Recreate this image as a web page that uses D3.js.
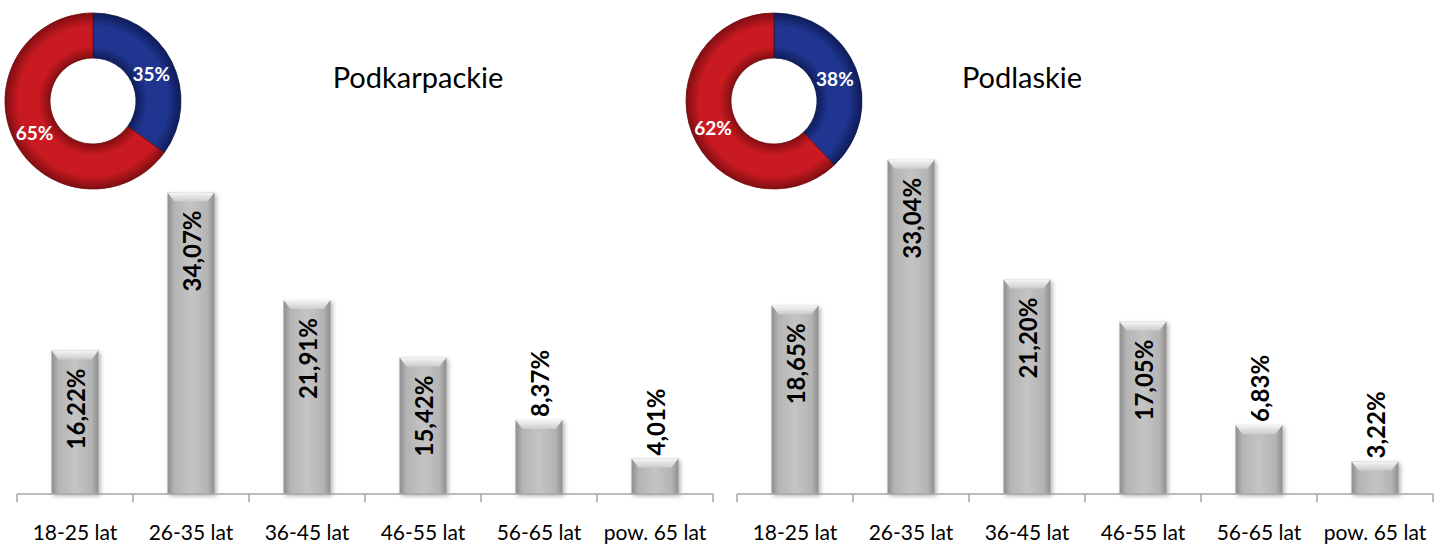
<!DOCTYPE html>
<html>
<head>
<meta charset="utf-8">
<script src="https://cdn.jsdelivr.net/npm/d3@7"></script>
<style>
  body { margin: 0; background: #fff; }
  svg { display: block; font-family: Lato, "Open Sans", sans-serif; }
</style>
</head>
<body>
<svg id="viz" width="1435" height="550"></svg>
<script>
// data
var categories = ["18-25 lat", "26-35 lat", "36-45 lat", "46-55 lat", "56-65 lat", "pow. 65 lat"];
var regions = ["Podkarpackie", "Podlaskie"];
var podkarpackie = [16.22, 34.07, 21.91, 15.42, 8.37, 4.01];
var podlaskie = [18.65, 33.04, 21.20, 17.05, 6.83, 3.22];
var podkarpackieShare = [35, 65];   // blue, red
var podlaskieShare = [38, 62];
var yMax = [40, 35];

var svg = d3.select("#viz");
var defs = svg.append("defs");

// bar gradient
var bg = defs.append("linearGradient").attr("id", "barGrad").attr("x1", 0).attr("x2", 1).attr("y1", 0).attr("y2", 0);
bg.append("stop").attr("offset", "0%").attr("stop-color", "#8e8e8e");
bg.append("stop").attr("offset", "15%").attr("stop-color", "#b4b4b4");
bg.append("stop").attr("offset", "50%").attr("stop-color", "#c4c4c4");
bg.append("stop").attr("offset", "85%").attr("stop-color", "#b4b4b4");
bg.append("stop").attr("offset", "100%").attr("stop-color", "#8e8e8e");

var cap = defs.append("linearGradient").attr("id", "capGrad").attr("x1", 0).attr("x2", 0).attr("y1", 0).attr("y2", 1);
cap.append("stop").attr("offset", "0%").attr("stop-color", "#f6f6f6");
cap.append("stop").attr("offset", "100%").attr("stop-color", "#cccccc");

var sh = defs.append("filter").attr("id", "shadow").attr("x", "-30%").attr("y", "-10%").attr("width", "160%").attr("height", "130%");
sh.append("feDropShadow").attr("dx", 2).attr("dy", 2).attr("stdDeviation", 2).attr("flood-color", "#000").attr("flood-opacity", 0.3);

function ringGrad(id, r, dark, mid) {
    var g = defs.append("radialGradient").attr("id", id)
        .attr("gradientUnits", "userSpaceOnUse").attr("cx", 0).attr("cy", 0).attr("r", r);
    g.append("stop").attr("offset", "48%").attr("stop-color", dark);
    g.append("stop").attr("offset", "62%").attr("stop-color", mid);
    g.append("stop").attr("offset", "85%").attr("stop-color", mid);
    g.append("stop").attr("offset", "100%").attr("stop-color", dark);
}

var panels = [
    { name: regions[0], values: podkarpackie, share: podkarpackieShare, x0: 17, x1: 713, max: yMax[0], donut: [93, 101], title: 418 },
    { name: regions[1], values: podlaskie, share: podlaskieShare, x0: 737, x1: 1433, max: yMax[1], donut: [774, 101], title: 1022 }
];

var baseY = 494, topY = 140;

panels.forEach(function(p, pi) {
    var g = svg.append("g");

    var x = d3.scaleBand().domain(categories).range([p.x0, p.x1]).padding(0);
    var y = d3.scaleLinear().domain([0, p.max]).range([baseY, topY]);
    var bw = x.bandwidth() * 0.405;

    // bars
    var bars = g.append("g").selectAll("g").data(p.values).join("g");
    bars.append("rect")
        .attr("x", (d, i) => x(categories[i]) + (x.bandwidth() - bw) / 2)
        .attr("y", d => y(d))
        .attr("width", bw)
        .attr("height", d => y(0) - y(d))
        .attr("fill", "url(#barGrad)")
        .attr("filter", "url(#shadow)");
    bars.append("path")
        .attr("d", (d, i) => {
            var l = x(categories[i]) + (x.bandwidth() - bw) / 2, t = y(d);
            return `M${l},${t}L${l + bw},${t}L${l + bw - 7},${t + 9}L${l + 7},${t + 9}Z`;
        })
        .attr("fill", "url(#capGrad)");

    // axis
    g.append("line").attr("x1", p.x0).attr("x2", p.x1).attr("y1", baseY).attr("y2", baseY)
        .attr("stroke", "#a6a6a6").attr("stroke-width", 1.5);
    var bounds = categories.map(c => x(c)).concat([p.x1]);
    g.append("g").selectAll("line").data(bounds).join("line")
        .attr("x1", d => d).attr("x2", d => d).attr("y1", baseY).attr("y2", baseY + 8)
        .attr("stroke", "#a6a6a6").attr("stroke-width", 1.5);

    var ax = g.append("g").attr("transform", `translate(0,${baseY})`)
        .call(d3.axisBottom(x).tickSize(0).tickPadding(31));
    ax.select(".domain").remove();
    ax.selectAll("text").attr("font-size", 21).attr("fill", "#000").attr("font-family", "Lato, sans-serif");

    // value labels
    var labels = g.append("g").selectAll("text").data(p.values).join("text")
        .text(d => d.toFixed(2).replace(".", ",") + "%")
        .attr("font-size", 24).attr("font-weight", "bold").attr("fill", "#000")
        .attr("dominant-baseline", "central");
    labels.each(function(d, i) {
        var len = this.getComputedTextLength();
        var cx = x(categories[i]) + x.bandwidth() / 2;
        var h = y(0) - y(d);
        var inside = h > len + 30;
        var ty = inside ? y(d) + 18 : y(d) - 3;
        d3.select(this)
            .attr("text-anchor", inside ? "end" : "start")
            .attr("transform", `translate(${cx},${ty}) rotate(-90)`);
    });

    // title
    g.append("text").attr("x", p.title).attr("y", 88).attr("text-anchor", "middle")
        .attr("font-size", 29).attr("fill", "#000").text(p.name);

    // donut
    var ro = 88, ri = 43;
    var cx = p.donut[0], cy = p.donut[1];
    ringGrad("blue" + pi, ro, "#0f1c58", "#1f3590");
    ringGrad("red" + pi, ro, "#800e12", "#c81a20");
    var pie = d3.pie().sort(null)(p.share);
    var arc = d3.arc().innerRadius(ri).outerRadius(ro);
    var dg = g.append("g").attr("transform", `translate(${cx},${cy})`);
    dg.selectAll("path").data(pie).join("path")
        .attr("d", arc)
        .attr("fill", (d, i) => i === 0 ? `url(#blue${pi})` : `url(#red${pi})`)
        .attr("stroke", (d, i) => i === 0 ? "#0b1545" : "#6a0a0d").attr("stroke-width", 0.8);
    dg.selectAll("text").data(pie).join("text")
        .attr("transform", d => {
            var c = arc.centroid(d);
            return `translate(${c[0]},${c[1] + 2})`;
        })
        .attr("text-anchor", "middle").attr("dominant-baseline", "central")
        .attr("font-size", 19).attr("font-weight", "bold").attr("fill", "#fff")
        .text(d => d.data + "%");
});
</script>
</body>
</html>
